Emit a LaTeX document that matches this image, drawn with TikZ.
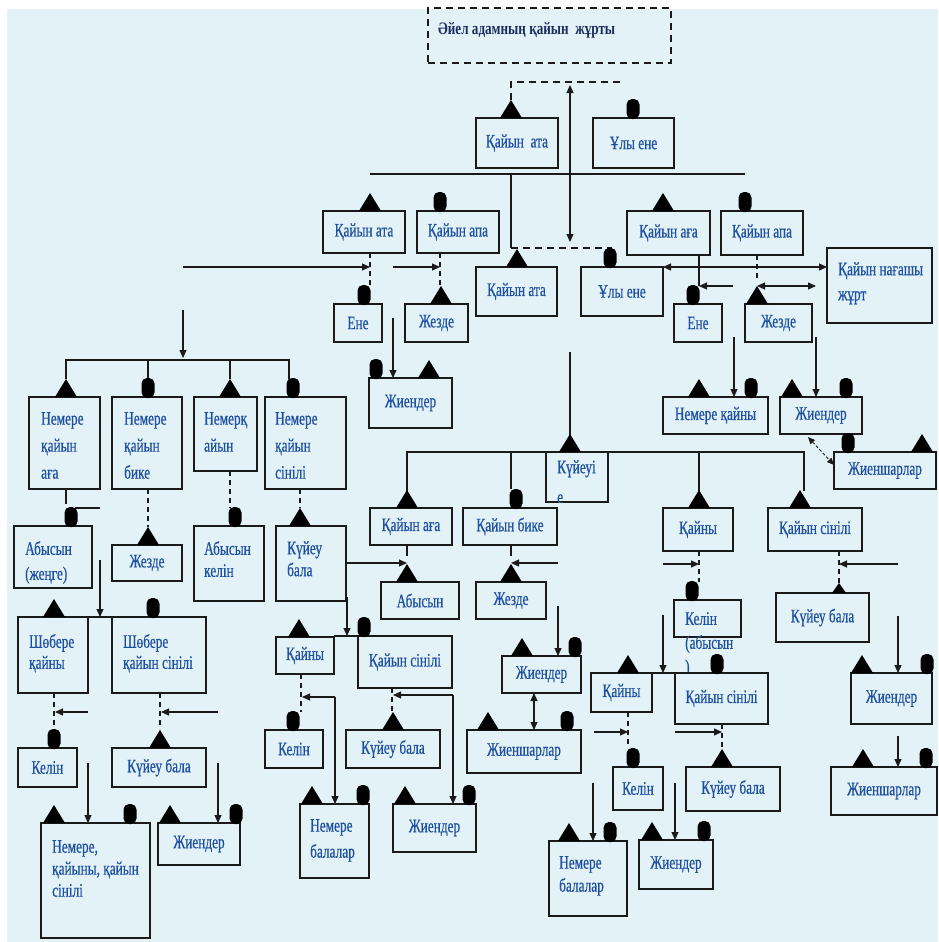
\documentclass[tikz,border=0pt]{standalone}
\usepackage{fontspec}
\setmainfont{Liberation Serif}[FakeStretch=0.7,FakeBold=0.5]
\newfontfamily\titlefont{Liberation Serif}[FakeStretch=0.75]
\usetikzlibrary{arrows.meta}
\definecolor{bgc}{HTML}{E3F2F7}
\definecolor{txc}{HTML}{1E50A0}
\definecolor{ttc}{HTML}{1B2D5E}
\definecolor{lnc}{HTML}{1A1A1A}
\tikzset{
 box/.style={draw=lnc, fill=bgc, line width=1.4pt, inner sep=0pt, text=txc, font=\fontsize{19}{22}\selectfont, align=center},
 txt/.style={text=txc, inner sep=0pt, align=left},
 ln/.style={draw=lnc, line width=1.1pt},
 arr/.style={ln, -{Triangle[length=8pt,width=7pt]}},
 darr/.style={ln, {Triangle[length=8pt,width=7pt]}-{Triangle[length=8pt,width=7pt]}},
 ddarr/.style={draw=lnc, line width=0.9pt, densely dashed, {Triangle[length=7pt,width=6pt]}-{Triangle[length=7pt,width=6pt]}},
 dsh/.style={ln, dash pattern=on 5pt off 4pt},
 ldsh/.style={draw=lnc, line width=1.4pt, dash pattern=on 7pt off 5pt},
 mk/.style={fill=black},
}
\newcommand\bx[6]{\node[box, minimum width={#4pt-#2pt}, minimum height={#5pt-#3pt}] (#1) at ({(#2+#4)/2},{(#3+#5)/2}) {#6};}
\newcommand\bxt[9]{\node[box, minimum width={#4pt-#2pt}, minimum height={#5pt-#3pt}] (#1) at ({(#2+#4)/2},{(#3+#5)/2}) {};
 \node[txt, anchor=north west, font=\fontsize{19}{#7}\selectfont] (#1t) at (#2+#8,#3+#9) {#6};}
\newcommand\tri[2]{\fill[mk] (#1-11,#2) -- (#1,#2-18) -- (#1+11,#2) -- cycle;}
\newcommand\stri[2]{\fill[mk] (#1-7,#2) -- (#1,#2-10) -- (#1+7,#2) -- cycle;}
\newcommand\hd[2]{\fill[mk, rounded corners=5.5pt] (#1-6.5,#2+1) rectangle (#1+6.5,#2-19);}
\begin{document}
\begin{tikzpicture}[x=1pt,y=-1pt]
\useasboundingbox (0,0) rectangle (938,942);
\fill[bgc] (7,9) rectangle (938,942);

% ---------- title ----------
\node[ldsh, minimum width=243pt, minimum height=55pt, inner sep=0pt] (title) at (549.5,35.5) {};
\node[anchor=west, text=ttc, font=\titlefont\bfseries\fontsize{17.5}{20}\selectfont, inner sep=0pt] (titlet) at (438,30) {Әйел адамның қайын\ \ жұрты};
\draw[ldsh] (511,100) -- (511,82) -- (624,82);
\draw[darr] (570,85) -- (570,242);

% ---------- connectors ----------
\draw[ln] (370,174) -- (745,174);
\draw[ln] (511,174) -- (511,248);
\draw[ldsh] (511,248) -- (612,248);

\draw[arr] (183,267) -- (370,267);
\draw[dsh] (370,253) -- (370,286);
\draw[arr] (393,267) -- (440,267);
\draw[dsh] (440,253) -- (440,286);
\draw[arr] (393,318) -- (393,378);
\draw[arr] (183,310) -- (183,358);
\draw[ln] (66,379) -- (66,360) -- (289,360) -- (289,379);
\draw[ln] (148,360) -- (148,379);
\draw[ln] (230,360) -- (230,379);

\draw[ln] (66,489) -- (66,504);
\draw[ln] (75,508) -- (100,508);
\draw[dsh] (148,489) -- (148,527);
\draw[dsh] (230,471) -- (230,508);
\draw[dsh] (300,489) -- (300,508);
\draw[arr] (100,560) -- (100,617);
\draw[ln] (88,617) -- (112,617);
\draw[dsh] (54,693) -- (54,729);
\draw[arr] (88,712) -- (55,712);
\draw[dsh] (160,693) -- (160,729);
\draw[arr] (218,712) -- (161,712);
\draw[arr] (88,763) -- (88,823);
\draw[arr] (218,763) -- (218,823);

\draw[ln] (570,352) -- (570,435);
\draw[ln] (407,491) -- (407,452) -- (804,452) -- (804,491);
\draw[ln] (511,452) -- (511,489);
\draw[ln] (699,452) -- (699,491);
\draw[ln] (407,545) -- (407,556);
\draw[arr] (347,563) -- (407,563);
\draw[ln] (511,545) -- (511,556);
\draw[arr] (558,563) -- (511,563);
\draw[arr] (558,606) -- (558,656);
\draw[darr] (534,693) -- (534,730);
\draw[arr] (347,597) -- (347,636);
\draw[ln] (334,636) -- (358,636);
\draw[dsh] (301,674) -- (301,712);
\draw[arr] (335,697) -- (302,697);
\draw[arr] (335,697) -- (335,804);
\draw[dsh] (392,688) -- (392,713);
\draw[arr] (453,695) -- (393,695);
\draw[arr] (453,695) -- (453,804);

\draw[dsh] (699,551) -- (699,582);
\draw[arr] (663,564) -- (699,564);
\draw[dsh] (839,551) -- (839,583);
\draw[arr] (898,564) -- (839,564);
\draw[arr] (663,615) -- (663,673);
\draw[ln] (652,673) -- (675,673);
\draw[dsh] (628,712) -- (628,748);
\draw[arr] (594,732) -- (628,732);
\draw[dsh] (722,724) -- (722,750);
\draw[arr] (675,732) -- (722,732);
\draw[arr] (675,783) -- (675,840);
\draw[arr] (593,783) -- (593,841);

\draw[darr] (663,267) -- (827,267);
\draw[ln] (699,255) -- (699,286);
\draw[arr] (733,286) -- (699,286);
\draw[dsh] (757,255) -- (757,280);
\draw[darr] (757,286) -- (816,286);
\draw[arr] (734,337) -- (734,397);
\draw[arr] (816,337) -- (816,397);
\draw[ddarr] (808,437) -- (834,465);
\draw[arr] (898,616) -- (898,673);
\draw[arr] (898,736) -- (898,767);

% ---------- boxes ----------
\bx{aA}{476}{118}{558}{168}{Қайын\ \ ата}
\bx{aB}{593}{118}{674}{168}{Ұлы ене}
\bx{bA}{323}{211}{405}{253}{Қайын ата}
\bx{bB}{417}{211}{499}{253}{Қайын апа}
\bx{bC}{627}{211}{710}{255}{Қайын аға}
\bx{bD}{721}{211}{803}{255}{Қайын апа}
\bx{cA}{476}{267}{557}{316}{Қайын ата}
\bx{cB}{581}{267}{663}{316}{Ұлы ене}
\bx{eA}{334}{304}{382}{342}{Ене}
\bx{eB}{405}{304}{468}{342}{Жезде}
\bx{jA}{369}{378}{452}{428}{Жиендер}
\bxt{dA}{29}{397}{100}{489}{Немере\\қайын\\аға}{27}{12}{15}
\bxt{dB}{112}{397}{182}{489}{Немере\\қайын\\бике}{27}{12}{15}
\bxt{dC}{194}{397}{257}{471}{Немерқ\\айын}{27}{10}{15}
\bxt{dD}{265}{397}{346}{489}{Немере\\қайын\\сінілі}{27}{10}{15}
\bxt{fA}{14}{526}{92}{588}{Абысын\\(жеңге)}{25}{11}{15}
\bx{fB}{112}{545}{182}{581}{Жезде}
\bxt{fC}{194}{526}{264}{601}{Абысын\\келін}{22}{10}{15}
\bxt{fD}{276}{526}{346}{601}{Күйеу\\бала}{22}{11}{15}
\bxt{gA}{18}{617}{88}{693}{Шөбере\\қайны}{21}{11}{17}
\bxt{gB}{112}{617}{206}{693}{Шөбере\\қайын сінілі}{21}{11}{17}
\bx{hA}{18}{748}{77}{787}{Келін}
\bx{hB}{112}{748}{206}{787}{Күйеу бала}
\bxt{iA}{41}{823}{150}{938}{Немере,\\қайыны, қайын\\сінілі}{22}{11}{17}
\bx{iB}{158}{823}{240}{865}{Жиендер}

\node[box, minimum width=62pt, minimum height=50pt] (kA) at (577,477) {};
\begin{scope}
\clip (546,452) rectangle (608,502);
\node[txt, anchor=north west, font=\fontsize{19}{30}\selectfont] (kAt) at (557,460) {Күйеуі\\е};
\end{scope}

\bx{lA}{370}{508}{452}{545}{Қайын аға}
\bx{lB}{463}{508}{557}{545}{Қайын бике}
\bx{lC}{663}{508}{733}{551}{Қайны}
\bx{lD}{768}{508}{862}{551}{Қайын сінілі}
\bx{mA}{381}{582}{459}{619}{Абысын}
\bx{mB}{476}{582}{546}{619}{Жезде}
\bx{nA}{502}{656}{581}{693}{Жиендер}
\bx{nB}{467}{730}{581}{773}{Жиеншарлар}
\bx{pA}{276}{637}{334}{674}{Қайны}
\bx{pB}{358}{636}{452}{688}{Қайын сінілі}
\bx{qA}{265}{730}{323}{768}{Келін}
\bx{qB}{346}{730}{440}{768}{Күйеу бала}
\bxt{rA}{300}{804}{369}{878}{Немере\\балалар}{26}{10}{15}
\bx{rB}{393}{804}{476}{852}{Жиендер}

\node[box, minimum width=67pt, minimum height=37pt] (sA) at (707.5,618.5) {};
\node[txt, anchor=north west, font=\fontsize{19}{24}\selectfont] (sAt) at (685,612) {Келін\\(абысын\\)};
\bx{sB}{776}{593}{869}{642}{Күйеу бала}
\bx{tA}{591}{673}{652}{712}{Қайны}
\bx{tB}{675}{673}{768}{724}{Қайын сінілі}
\bx{uA}{613}{767}{663}{810}{Келін}
\bx{uB}{686}{767}{780}{811}{Күйеу бала}
\bx{vA}{639}{840}{713}{889}{Жиендер}
\bxt{vB}{549}{841}{627}{916}{Немере\\балалар}{23}{10}{15}
\bxt{wA}{827}{248}{932}{323}{Қайын нағашы\\жұрт}{25}{11}{14}
\bx{xA}{674}{304}{722}{342}{Ене}
\bx{xB}{745}{304}{812}{342}{Жезде}
\bx{yA}{663}{397}{768}{434}{Немере қайны}
\bx{yB}{780}{397}{862}{434}{Жиендер}
\bx{yC}{834}{452}{936}{489}{Жиеншарлар}
\bx{zA}{851}{673}{932}{724}{Жиендер}
\bx{zB}{831}{767}{937}{815}{Жиеншарлар}

% ---------- markers ----------
\tri{511}{118} \hd{633}{118}
\tri{370}{211} \hd{440}{211} \tri{663}{211} \hd{745}{211}
\tri{517}{267} \hd{610}{267}
\hd{364}{304} \tri{441}{304}
\hd{376}{378} \tri{429}{378}
\tri{66}{397} \hd{148}{397} \tri{230}{397} \hd{293}{397}
\hd{71}{526} \tri{148}{545} \hd{235}{526} \tri{300}{526}
\tri{54}{617} \hd{153}{617}
\hd{54}{748} \tri{160}{748}
\tri{54}{823} \hd{130}{823} \tri{170}{823} \hd{236}{823}
\tri{570}{452}
\tri{407}{508} \hd{516}{508} \tri{699}{508} \tri{800}{508}
\tri{407}{582} \tri{511}{582}
\tri{522}{656} \hd{575}{656}
\tri{488}{730} \hd{567}{730}
\tri{299}{637} \hd{364}{636}
\hd{293}{730} \tri{393}{730}
\tri{312}{804} \hd{363}{804} \tri{405}{804} \hd{469}{804}
\hd{692}{600} \stri{839}{593}
\tri{628}{673} \hd{717}{673}
\hd{633}{767} \tri{722}{767}
\tri{652}{840} \hd{704}{840} \tri{569}{841} \hd{610}{841}
\hd{693}{304} \tri{757}{304}
\tri{699}{397} \hd{751}{397} \tri{792}{397} \hd{846}{397}
\hd{848}{452} \tri{922}{452}
\tri{862}{673} \hd{927}{673}
\tri{863}{767} \hd{926}{767}
\end{tikzpicture}
\end{document}
